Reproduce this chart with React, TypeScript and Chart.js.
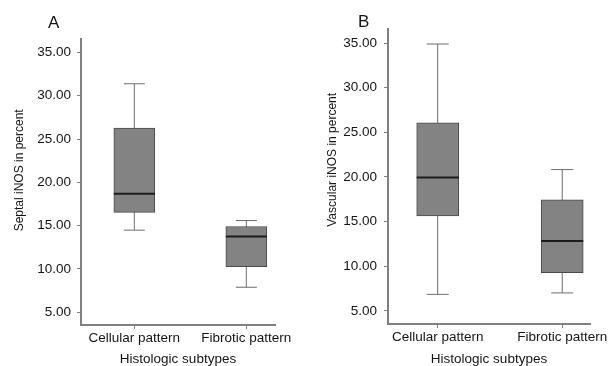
import { useEffect, useRef } from 'react';
import { Chart, registerables } from 'chart.js';

Chart.register(...registerables);

// ---- data ----
const categories = ['Cellular pattern', 'Fibrotic pattern'];
const yTickValues = [5, 10, 15, 20, 25, 30, 35];
const xAxisTitle = 'Histologic subtypes';

// Panel A: Septal iNOS
const septalMin = [14.48, 7.89];
const septalQ1 = [16.53, 10.27];
const septalMedian = [18.67, 13.74];
const septalQ3 = [26.26, 14.9];
const septalMax = [31.38, 15.59];

// Panel B: Vascular iNOS
const vascularMin = [6.86, 7.02];
const vascularQ1 = [15.64, 9.28];
const vascularMedian = [19.93, 12.84];
const vascularQ3 = [26.07, 17.44];
const vascularMax = [34.89, 20.83];

const TEXT = '#151515';
const AXIS = '#808080';
const BOX_FILL = '#838383';
const BOX_EDGE = '#4a4a4a';
const WHISKER = '#6c6c6c';
const MEDIAN = '#1c1c1c';
const HFONT = 'Liberation Sans';
const VFONT = 'Liberation Sans';
const HSIZE = 13.5;

type Panel = {
  letter: string;
  yTitle: string;
  min: number[];
  q1: number[];
  med: number[];
  q3: number[];
  max: number[];
  xMin: number;
  xMax: number;
  yMin: number;
  yMax: number;
  padTop: number;
  padRight: number;
  yAxisWidth: number;
  xAxisHeight: number;
  boxWidth: number;
  capHalf: number;
  titleSpaces: number;
  titlePadTop: number;
  tickPad: number;
  letterX: number;
  letterY: number;
  left: number;
  width: number;
};

const panels: Panel[] = [
  {
    letter: 'A', yTitle: 'Septal iNOS in percent',
    min: septalMin, q1: septalQ1, med: septalMedian, q3: septalQ3, max: septalMax,
    xMin: 0.524, xMax: 2.256, yMin: 3.53, yMax: 36.55,
    padTop: 39, padRight: 35, yAxisWidth: 81, xAxisHeight: 41,
    boxWidth: 41, capHalf: 10.5, titleSpaces: 7, titlePadTop: 12.5, tickPad: 6,
    letterX: 48, letterY: 28, left: 0, width: 310,
  },
  {
    letter: 'B', yTitle: 'Vascular iNOS in percent',
    min: vascularMin, q1: vascularQ1, med: vascularMedian, q3: vascularQ3, max: vascularMax,
    xMin: 0.601, xMax: 2.223, yMin: 3.54, yMax: 36.57,
    padTop: 29, padRight: 21, yAxisWidth: 78, xAxisHeight: 42,
    boxWidth: 42, capHalf: 11, titleSpaces: 10, titlePadTop: 15.3, tickPad: 7,
    letterX: 48, letterY: 27, left: 310, width: 303,
  },
];

const letterPlugin = {
  id: 'panelLetter',
  afterDraw(chart: any, _args: any, opts: any) {
    const ctx = chart.ctx;
    ctx.save();
    ctx.font = `17px "${HFONT}"`;
    ctx.fillStyle = TEXT;
    ctx.textBaseline = 'alphabetic';
    ctx.textAlign = 'left';
    ctx.fillText(opts.text, opts.x, opts.y);
    ctx.restore();
  },
};

function buildConfig(p: Panel): any {
  const whiskers = categories.map((_, i) => ({
    type: 'line',
    data: [{ x: i + 1, y: p.min[i] }, { x: i + 1, y: p.max[i] }],
    borderColor: WHISKER,
    borderWidth: 1,
    pointRadius: 0,
    fill: false,
    tension: 0,
    order: 3,
  }));
  const caps = {
    type: 'line',
    showLine: false,
    data: categories.flatMap((_, i) => [{ x: i + 1, y: p.min[i] }, { x: i + 1, y: p.max[i] }]),
    pointStyle: 'line',
    pointRadius: p.capHalf,
    pointHoverRadius: p.capHalf,
    pointBorderWidth: 1,
    pointBorderColor: WHISKER,
    borderColor: WHISKER,
    order: 2,
  };
  const boxes = {
    type: 'bar',
    data: categories.map((_, i) => ({ x: i + 1, y: [p.q1[i], p.q3[i]] })),
    backgroundColor: BOX_FILL,
    borderColor: BOX_EDGE,
    borderWidth: 1,
    borderSkipped: false,
    barThickness: p.boxWidth,
    order: 1,
  };
  const medians = {
    type: 'line',
    showLine: false,
    data: categories.map((_, i) => ({ x: i + 1, y: p.med[i] })),
    pointStyle: 'line',
    pointRadius: p.boxWidth / 2,
    pointHoverRadius: p.boxWidth / 2,
    pointBorderWidth: 2,
    pointBorderColor: MEDIAN,
    borderColor: MEDIAN,
    order: 0,
  };

  return {
    type: 'bar',
    data: { datasets: [...whiskers, caps, boxes, medians] },
    plugins: [letterPlugin],
    options: {
      animation: false,
      responsive: false,
      maintainAspectRatio: false,
      events: [],
      layout: { padding: { top: p.padTop, right: p.padRight, left: 0, bottom: 0 } },
      plugins: {
        legend: { display: false },
        tooltip: { enabled: false },
        panelLetter: { text: p.letter, x: p.letterX, y: p.letterY },
      },
      scales: {
        x: {
          type: 'linear',
          min: p.xMin,
          max: p.xMax,
          offset: false,
          afterBuildTicks: (s: any) => {
            s.ticks = categories.map((_, i) => ({ value: i + 1 }));
          },
          afterFit: (s: any) => {
            s.height = p.xAxisHeight;
          },
          ticks: {
            callback: (v: any) => categories[Math.round(Number(v)) - 1] ?? '',
            font: { family: HFONT, size: HSIZE, lineHeight: 1.2 },
            color: TEXT,
            padding: 1,
            maxRotation: 0,
            autoSkip: false,
          },
          grid: {
            display: true,
            drawOnChartArea: false,
            drawTicks: true,
            tickLength: 4,
            color: AXIS,
            lineWidth: 1,
            offset: false,
          },
          border: { display: true, color: AXIS, width: 2 },
          title: {
            display: true,
            text: xAxisTitle,
            font: { family: HFONT, size: HSIZE, lineHeight: 1.05 },
            color: TEXT,
            padding: { top: 0, bottom: 0 },
          },
        },
        y: {
          type: 'linear',
          min: p.yMin,
          max: p.yMax,
          afterBuildTicks: (s: any) => {
            s.ticks = yTickValues.map((v) => ({ value: v }));
          },
          afterFit: (s: any) => {
            s.width = p.yAxisWidth;
          },
          ticks: {
            callback: (v: any) => Number(v).toFixed(2),
            font: { family: HFONT, size: HSIZE },
            color: TEXT,
            padding: p.tickPad,
          },
          grid: {
            display: true,
            drawOnChartArea: false,
            drawTicks: true,
            tickLength: 4,
            color: AXIS,
            lineWidth: 1,
          },
          border: { display: true, color: AXIS, width: 2 },
          title: {
            display: true,
            text: ' '.repeat(p.titleSpaces) + p.yTitle,
            font: { family: VFONT, size: 12, lineHeight: 1.2 },
            color: TEXT,
            padding: { top: p.titlePadTop, bottom: 0 },
          },
        },
      },
    },
  };
}

function BoxPanel({ panel }: { panel: Panel }) {
  const ref = useRef<HTMLCanvasElement | null>(null);
  useEffect(() => {
    if (!ref.current) return;
    const chart = new Chart(ref.current, buildConfig(panel));
    return () => chart.destroy();
  }, [panel]);
  return (
    <canvas
      ref={ref}
      width={panel.width}
      height={366}
      style={{ position: 'absolute', left: panel.left, top: 0, width: panel.width, height: 366 }}
    />
  );
}

export default function App() {
  return (
    <div style={{ position: 'absolute', left: 0, top: 0, width: 613, height: 366, background: '#ffffff' }}>
      {panels.map((p) => (
        <BoxPanel key={p.letter} panel={p} />
      ))}
    </div>
  );
}
